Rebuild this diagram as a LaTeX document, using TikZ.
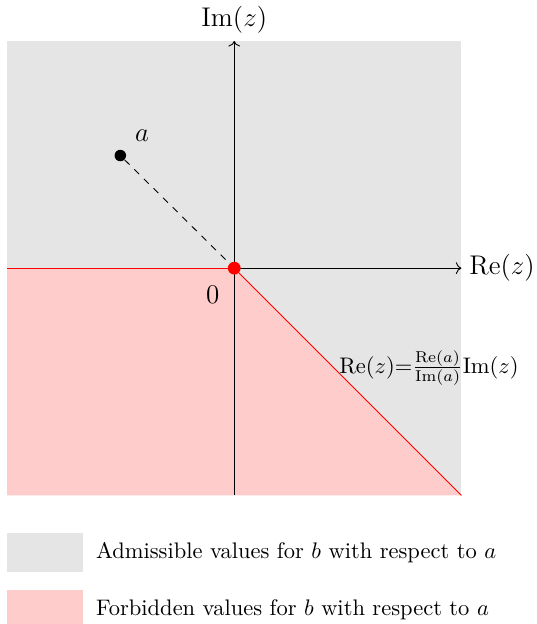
\documentclass[tikz,border=0pt]{standalone}
\usepackage{amsmath,amssymb}
\usepackage{xcolor}
\usepackage{tikz}
\usetikzlibrary{arrows.meta,positioning,calc}
\tikzset{
  admissible/.style={fill=gray!20, draw=none},
  forbidden/.style={fill=red!20, draw=none},
  axis/.style={->, thin},
  boundary/.style={red, thin},
  dotpoint/.style={circle, fill, inner sep=0pt, minimum size=0.18cm},
  legendbox/.style={rectangle, inner sep=0pt, minimum width=1.19cm, minimum height=0.61cm},
  legendtext/.style={font=\normalsize},
}

\begin{document}
\begin{tikzpicture}
  \useasboundingbox (-3.66,-5.56) rectangle (4.73,4.19);

  % Regions
  \fill[admissible] (-3.55,-3.55) rectangle (3.55,3.55);
  \fill[forbidden] (-3.55,0) -- (0,0) -- (3.55,-3.55) -- (-3.55,-3.55) -- cycle;

  % Axes
  \coordinate (O) at (0,0);
  \coordinate (xstart) at (-3.55,0);
  \coordinate (xend) at (3.55,0);
  \coordinate (ystart) at (0,-3.55);
  \coordinate (yend) at (0,3.55);
  \coordinate (corner) at (3.55,-3.55);
  \draw[axis] (xstart) -- (xend);
  \draw[axis] (ystart) -- (yend);
  \node[right, font=\large] (relabel) at (xend) {$\mathrm{Re}(z)$};
  \node[above, font=\large] (imlabel) at (yend) {$\mathrm{Im}(z)$};

  % Boundary of the forbidden region
  \draw[boundary] (xstart) -- (O);
  \draw[boundary] (O) -- (corner);
  \node[anchor=west, font=\fontsize{9.6}{11}\selectfont, inner sep=1pt] (linelabel) at (1.6,-1.56)
    {$\mathrm{Re}(z){=}\frac{\mathrm{Re}(a)}{\mathrm{Im}(a)}\mathrm{Im}(z)$};

  % Point a and origin
  \node[dotpoint] (a) at (-1.78,1.76) {};
  \node[above right=0.03cm and 0.04cm of a, font=\large] (alabel) {$a$};
  \node[dotpoint, red, minimum size=0.2cm] (origin) at (O) {};
  \draw[dashed] (a) -- (origin);
  \node[below left=0.16cm and 0.11cm of O, font=\large] (zero) {$0$};

  % Legend
  \node[legendbox, admissible] (admbox) at (-2.955,-4.445) {};
  \node[legendtext, right=0.07cm of admbox] (admtext) {Admissible values for $b$ with respect to $a$};
  \node[legendbox, forbidden] (forbox) at (-2.955,-5.335) {};
  \node[legendtext, right=0.07cm of forbox] (fortext) {Forbidden values for $b$ with respect to $a$};
\end{tikzpicture}
\end{document}
